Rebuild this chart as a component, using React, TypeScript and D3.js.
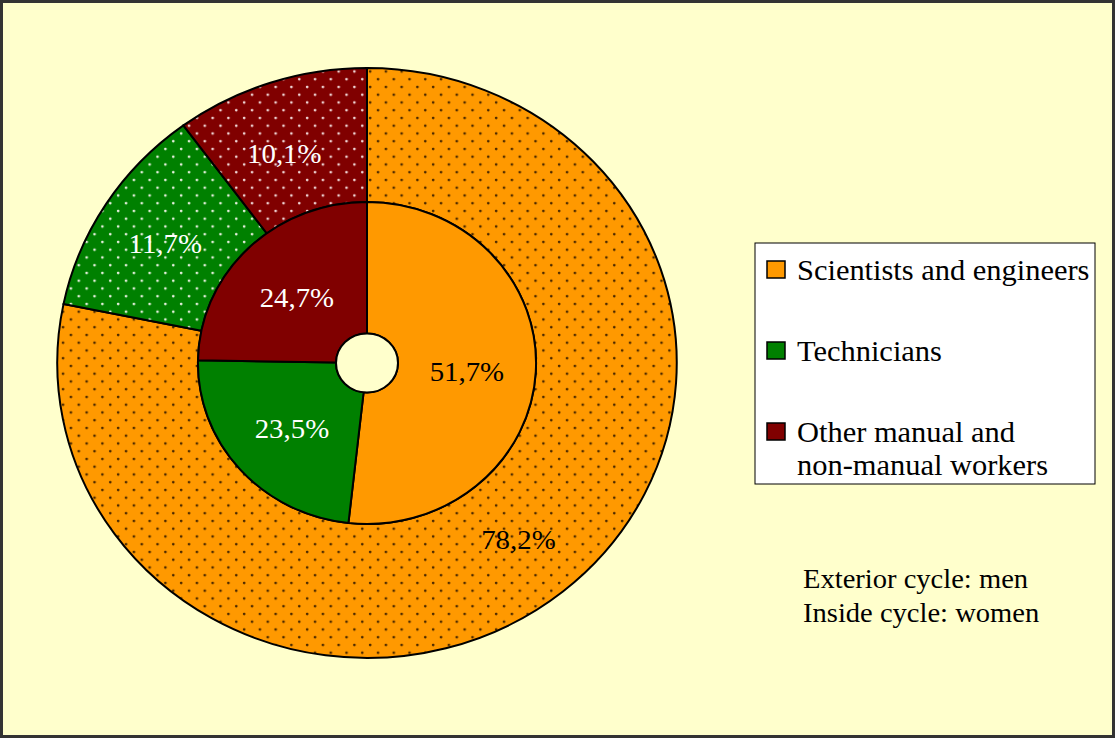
import React from "react";
import * as d3 from "d3";

const categories = ["Scientists and engineers", "Technicians", "Other manual and non-manual workers"];
const menValues = [78.2, 11.7, 10.1];
const womenValues = [51.7, 23.5, 24.7];
const legendLines = [["Scientists and engineers"], ["Technicians"], ["Other manual and", "non-manual workers"]];
const notes = ["Exterior cycle: men", "Inside cycle: women"];

const colors = ["#FF9900", "#008000", "#800000"];
const dotColors = ["#4a2800", "#e8f0e0", "#f0d8d8"];
const labelColors = ["#000000", "#ffffff", "#ffffff"];

const W = 1115;
const H = 738;
const cx = 367;
const cy = 363;
const sx = 1.05;
const rOuter = 295;
const rMid = 161;
const rHole = 29.5;
const FONT = "'Liberation Serif', 'Times New Roman', serif";

const fmt = (v: number) => d3.format(".1f")(v).replace(".", ",") + "%";

function SText(props: { x: number; y: number; s: number; size: number; fill: string; anchor?: string; central?: boolean; children: React.ReactNode }) {
  return (
    <text
      transform={`translate(${props.x},${props.y}) scale(${props.s},1)`}
      textAnchor={props.anchor || "start"}
      dominantBaseline={props.central ? "central" : "auto"}
      fontSize={props.size}
      fill={props.fill}
    >
      {props.children}
    </text>
  );
}

export default function App() {
  const pie = d3.pie<number>().sort(null).value((d) => d);
  const outerArcs = pie(menValues);
  const innerArcs = pie(womenValues);
  const outerArc = d3.arc<d3.PieArcDatum<number>>().innerRadius(rMid).outerRadius(rOuter);
  const innerArc = d3.arc<d3.PieArcDatum<number>>().innerRadius(rHole).outerRadius(rMid);

  const legendX = 755;
  const legendY = 243;
  const legendW = 340;
  const legendH = 241;
  const itemBaselines = [280, 361, 442];

  return (
    <svg
      width={W}
      height={H}
      style={{ position: "absolute", left: 0, top: 0, display: "block" }}
      fontFamily={FONT}
    >
      <defs>
        {colors.map((c, i) => (
          <pattern key={i} id={`dots${i}`} patternUnits="userSpaceOnUse" width={15} height={15.5}>
            <rect width={15} height={15.5} fill={c} />
            <circle cx={3} cy={3} r={1.3} fill={dotColors[i]} />
            <circle cx={10.5} cy={10.75} r={1.3} fill={dotColors[i]} />
          </pattern>
        ))}
      </defs>
      <rect x={1.5} y={1.5} width={W - 3} height={H - 3} fill="#FFFFCC" stroke="#333333" strokeWidth={3} />

      <g transform={`translate(${cx},${cy}) scale(${sx},1)`}>
        {outerArcs.map((a, i) => (
          <path
            key={`o${i}`}
            d={outerArc(a) || ""}
            fill={`url(#dots${i})`}
            stroke="#000"
            strokeWidth={2}
            vectorEffect="non-scaling-stroke"
          />
        ))}
        {innerArcs.map((a, i) => (
          <path
            key={`i${i}`}
            d={innerArc(a) || ""}
            fill={colors[i]}
            stroke="#000"
            strokeWidth={2}
            vectorEffect="non-scaling-stroke"
          />
        ))}
        <circle r={rHole} fill="#FFFFCC" stroke="#000" strokeWidth={2} vectorEffect="non-scaling-stroke" />
      </g>

      {outerArcs.map((a, i) => {
        const [x, y] = outerArc.centroid(a);
        const dx = i === 2 ? -8 : 0;
        const dy = i === 2 ? 7 : i === 1 ? 3 : 0;
        return (
          <SText key={`ol${i}`} x={cx + x * sx + dx} y={cy + y + dy} s={1.03} size={28} fill={labelColors[i]} anchor="middle" central>
            {fmt(menValues[i])}
          </SText>
        );
      })}
      {innerArcs.map((a, i) => {
        const [x, y] = innerArc.centroid(a);
        return (
          <SText key={`il${i}`} x={cx + x * sx} y={cy + y + 3} s={1.03} size={28} fill={labelColors[i]} anchor="middle" central>
            {fmt(womenValues[i])}
          </SText>
        );
      })}

      <rect x={legendX} y={legendY} width={legendW} height={legendH} fill="#ffffff" stroke="#000" strokeWidth={1} />
      {categories.map((c, i) => (
        <g key={c}>
          <rect x={767} y={itemBaselines[i] - 19} width={18} height={17} fill={colors[i]} stroke="#000" strokeWidth={1.5} />
          {legendLines[i].map((line, j) => (
            <SText key={j} x={797} y={itemBaselines[i] + j * 33} s={1.05} size={29} fill="#000">
              {line}
            </SText>
          ))}
        </g>
      ))}

      {notes.map((n, i) => (
        <SText key={n} x={803} y={588 + i * 34} s={1.02} size={28} fill="#000">
          {n}
        </SText>
      ))}
    </svg>
  );
}
